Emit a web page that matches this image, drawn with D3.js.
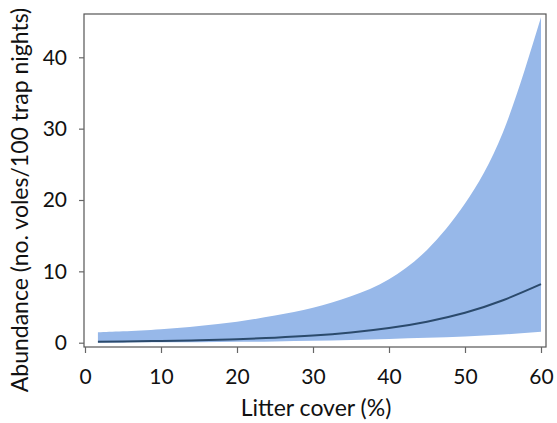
<!DOCTYPE html>
<html>
<head>
<meta charset="utf-8">
<script src="https://cdn.jsdelivr.net/npm/d3@7"></script>
<style>
  html, body { margin: 0; padding: 0; background: #fff; }
  svg { display: block; }
  text { font-family: Lato, "Open Sans", sans-serif; fill: #111; }
</style>
</head>
<body>
<svg id="chart" width="557" height="423"></svg>
<script>
// Litter cover (%) sample points
const litter = [1.7, 5, 10, 15, 20, 25, 30, 35, 40, 45, 50, 55, 60];
// Fitted abundance (no. voles/100 trap nights)
const fitted = [0.15, 0.18, 0.25, 0.35, 0.5, 0.71, 1.0, 1.43, 2.05, 2.95, 4.2, 5.95, 8.2];
// Upper and lower confidence limits
const upper = [1.45, 1.6, 1.9, 2.35, 2.95, 3.8, 4.9, 6.5, 8.9, 13.0, 19.5, 29.5, 45.6];
const lower = [0.03, 0.035, 0.05, 0.08, 0.12, 0.18, 0.27, 0.38, 0.52, 0.68, 0.88, 1.15, 1.55];
const xTicks = [0, 10, 20, 30, 40, 50, 60];
const yTicks = [0, 10, 20, 30, 40];

const data = litter.map((x, i) => ({x, y: fitted[i], lo: lower[i], hi: upper[i]}));

const svg = d3.select("#chart");
const box = {left: 84, top: 14, right: 546, bottom: 347};

const x = d3.scaleLinear().domain([0, 60]).range([85, 541]);
const y = d3.scaleLinear().domain([0, 40]).range([342.7, 57.3]);

// confidence band
svg.append("path")
  .datum(data)
  .attr("fill", "#97b8e9")
  .attr("d", d3.area().curve(d3.curveNatural)
    .x(d => x(d.x)).y0(d => y(d.lo)).y1(d => y(d.hi)));

// fitted line
svg.append("path")
  .datum(data)
  .attr("fill", "none")
  .attr("stroke", "#2b4a6c")
  .attr("stroke-width", 2)
  .attr("d", d3.line().curve(d3.curveNatural)
    .x(d => x(d.x)).y(d => y(d.y)));

// frame
svg.append("rect")
  .attr("x", box.left).attr("y", box.top)
  .attr("width", box.right - box.left).attr("height", box.bottom - box.top)
  .attr("fill", "none").attr("stroke", "#555").attr("stroke-width", 1.2);

// x axis
const xa = svg.append("g")
  .attr("transform", `translate(0,${box.bottom})`)
  .call(d3.axisBottom(x).tickValues(xTicks).tickSize(6).tickPadding(16).tickFormat(d3.format("d")));
xa.select(".domain").remove();
xa.selectAll(".tick line").attr("stroke", "#666").attr("stroke-width", 1.2);
xa.selectAll(".tick text").attr("font-size", 21).attr("fill", "#111");

// y axis
const ya = svg.append("g")
  .attr("transform", `translate(${box.left},0)`)
  .call(d3.axisLeft(y).tickValues(yTicks).tickSize(5).tickPadding(12).tickFormat(d3.format("d")));
ya.select(".domain").remove();
ya.selectAll(".tick line").attr("stroke", "#666").attr("stroke-width", 1.2);
ya.selectAll(".tick text").attr("font-size", 21).attr("fill", "#111");

// axis titles
svg.append("text")
  .attr("x", 316)
  .attr("y", 416)
  .attr("text-anchor", "middle")
  .attr("font-size", 23)
  .text("Litter cover (%)");

svg.append("text")
  .attr("transform", `translate(28,200) rotate(-90)`)
  .attr("text-anchor", "middle")
  .attr("font-size", 23)
  .text("Abundance (no. voles/100 trap nights)");
</script>
</body>
</html>
